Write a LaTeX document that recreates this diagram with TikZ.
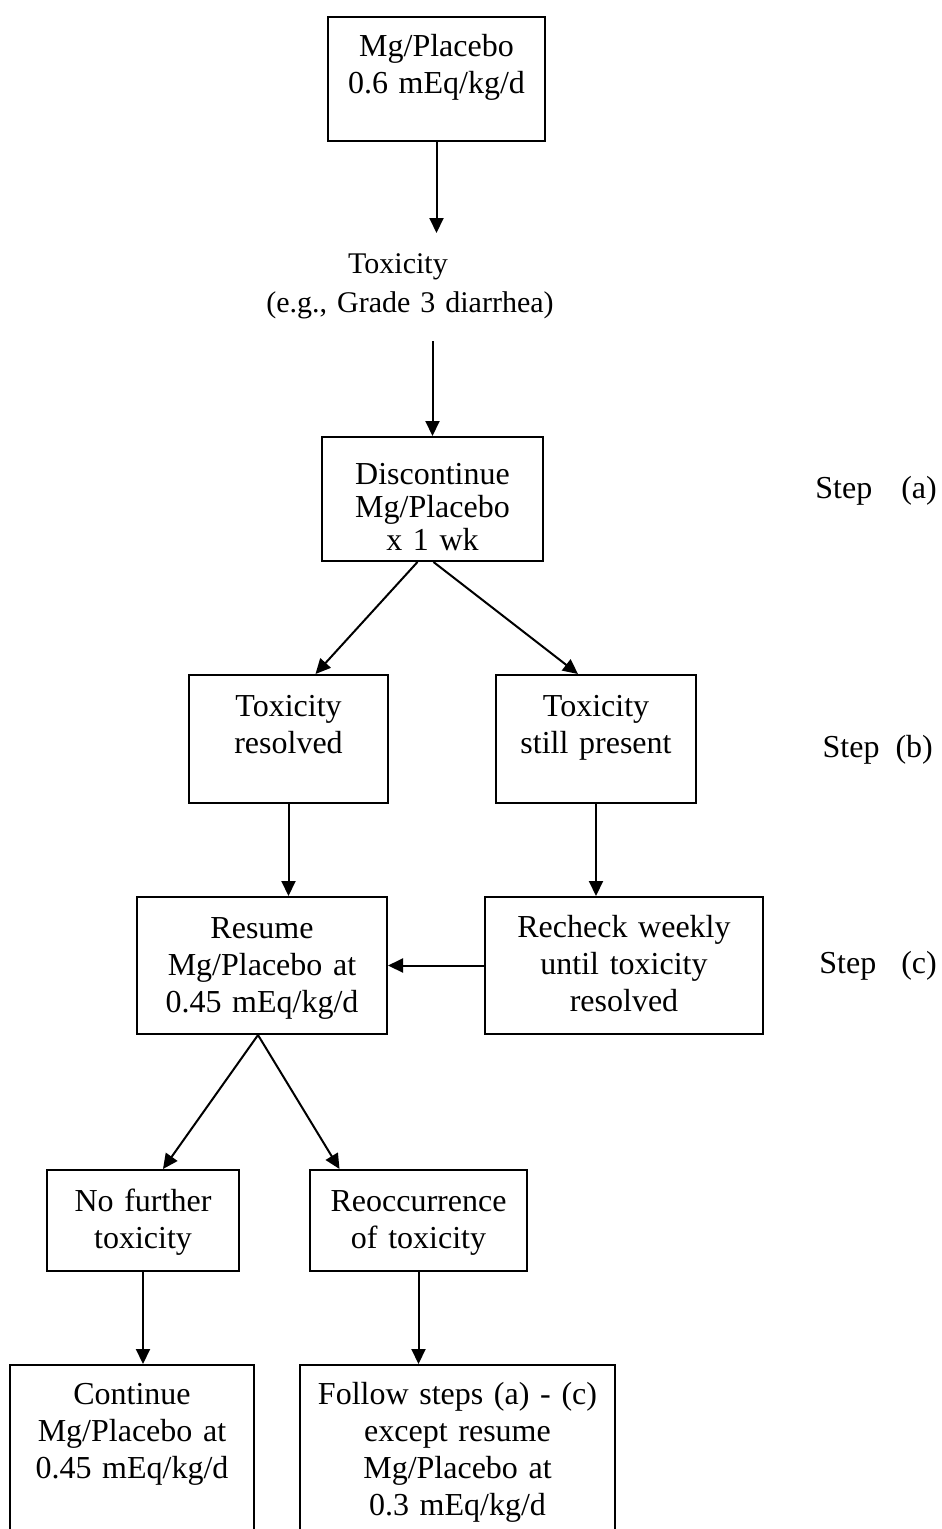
\documentclass[tikz,border=0pt]{standalone}
\usepackage{fontspec}
\setmainfont{Liberation Serif}
\usetikzlibrary{arrows.meta}
\tikzset{
    box/.style={draw, line width=2pt, align=center, inner sep=0pt, anchor=north},
    steplabel/.style={anchor=base east, inner sep=0pt},
    arr/.style={line width=2pt, -{Triangle[length=15pt, width=14pt]}},
}
\begin{document}
\begin{tikzpicture}[x=1pt, y=-1pt, font=\fontsize{32}{37}\selectfont]
    \useasboundingbox (0,0) rectangle (942,1529);

    \node (dose) at (436.5,16) [box, text width=217pt, text height=39pt, text depth=85pt] {Mg/Placebo\\0.6 mEq/kg/d};
    \node (tox) at (410,233) [anchor=north, align=center, inner sep=0pt, text width=320pt, text height=40pt, text depth=68pt, font=\fontsize{30}{39}\selectfont] {\hspace*{-24pt}Toxicity\\(e.g., Grade 3 diarrhea)};
    \node (disc) at (432.5,436) [box, text width=221pt, text height=47pt, text depth=77pt, font=\fontsize{32}{33}\selectfont] {Discontinue\\Mg/Placebo\\x 1 wk};
    \node (res) at (288.5,674) [box, text width=199pt, text height=41pt, text depth=87pt] {Toxicity\\resolved};
    \node (still) at (596,674) [box, text width=200pt, text height=41pt, text depth=87pt] {Toxicity\\still present};
    \node (resume) at (262,896) [box, text width=250pt, text height=41pt, text depth=96pt] {Resume\\Mg/Placebo at\\0.45 mEq/kg/d};
    \node (recheck) at (624,896) [box, text width=278pt, text height=40pt, text depth=97pt] {Recheck weekly\\until toxicity\\resolved};
    \node (nofur) at (143,1169) [box, text width=192pt, text height=41pt, text depth=60pt] {No further\\toxicity};
    \node (reocc) at (418.5,1169) [box, text width=217pt, text height=41pt, text depth=60pt] {Reoccurrence\\of toxicity};
    \node (cont) at (132,1364) [box, text width=244pt, text height=39pt, text depth=160pt] {Continue\\Mg/Placebo at\\0.45 mEq/kg/d};
    \node (follow) at (457.5,1364) [box, text width=315pt, text height=39pt, text depth=160pt] {Follow steps (a) - (c)\\except resume\\Mg/Placebo at\\0.3 mEq/kg/d};

    \node (stepa) at (937,498) [steplabel] {Step\hspace{29pt}(a)};
    \node (stepb) at (933,757) [steplabel] {Step\hspace{16pt}(b)};
    \node (stepc) at (937,973) [steplabel] {Step\hspace{25pt}(c)};

    \draw[arr] (dose.south) -- (dose.south |- tox.north);
    \draw[arr] (disc.north |- tox.south) -- (disc.north);
    \draw[arr] ([xshift=-15pt]disc.south) -- ([xshift=27pt]res.north);
    \draw[arr] ([xshift=1pt]disc.south) -- ([xshift=-18pt]still.north);
    \draw[arr] (res.south) -- (res.south |- resume.north);
    \draw[arr] (still.south) -- (still.south |- recheck.north);
    \draw[arr] (recheck.west) -- (resume.east);
    \draw[arr] ([xshift=-4pt]resume.south) -- ([xshift=20pt]nofur.north);
    \draw[arr] ([xshift=-4pt]resume.south) -- ([xshift=-79pt]reocc.north);
    \draw[arr] (nofur.south) -- (nofur.south |- cont.north);
    \draw[arr] (reocc.south) -- (reocc.south |- follow.north);
\end{tikzpicture}
\end{document}
